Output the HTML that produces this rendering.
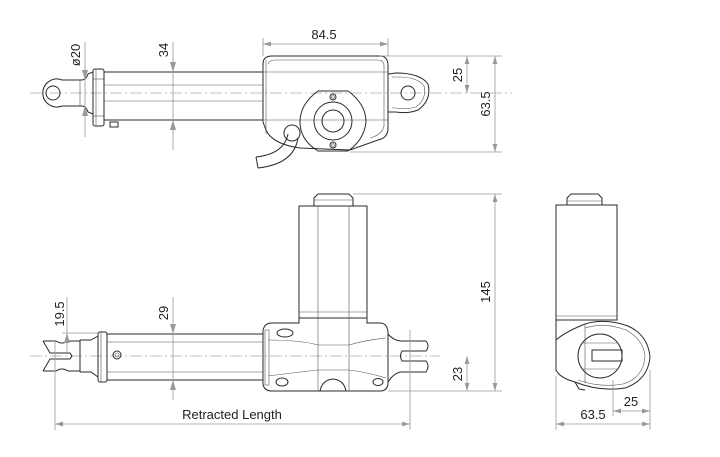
<!DOCTYPE html>
<html><head><meta charset="utf-8"><style>
html,body{margin:0;padding:0;background:#fff;}
svg{display:block;font-family:"Liberation Sans",sans-serif;}
.d{stroke:#2a2a2a;stroke-width:1;fill:none;}
.t{stroke:#555;stroke-width:0.6;fill:none;}
.m{stroke:#9a9a9a;stroke-width:0.8;fill:none;}
.c{stroke:#aaa;stroke-width:0.7;fill:none;stroke-dasharray:12 3 2 3;}
text{font-size:13px;fill:#222;}
</style></head><body>
<svg width="720" height="457" viewBox="0 0 720 457" xmlns="http://www.w3.org/2000/svg">
<defs>
<marker id="a" viewBox="0 0 10 6" refX="10" refY="3" markerWidth="10" markerHeight="6" orient="auto-start-reverse"><path d="M0,0 L10,3 L0,6 z" fill="#999"/></marker>
</defs>

<!-- ===== TOP VIEW ===== -->
<line class="c" x1="30" y1="93" x2="512" y2="93"/>
<!-- left eye -->
<path class="d" d="M72,80 L62,80 A14,14 0 1 0 62,106 L72,106"/>
<circle class="d" cx="53" cy="93" r="7"/>
<path class="d" d="M72,80 L82,80 Q86,80 88,74 L93,72 M72,106 L82,106 Q86,106 88,112 L93,114"/>
<line class="t" x1="80" y1="80" x2="80" y2="106"/>
<rect class="d" x="93" y="69" width="11" height="57" rx="2"/>
<line class="t" x1="96" y1="69" x2="96" y2="126"/>
<line class="t" x1="93" y1="79" x2="104" y2="79"/><line class="t" x1="93" y1="116" x2="104" y2="116"/>
<rect class="d" x="110" y="122" width="8" height="5"/>
<!-- tube -->
<rect class="d" x="104" y="72" width="159" height="48"/>
<line class="t" x1="104" y1="85" x2="263" y2="85"/><line class="t" x1="104" y1="101" x2="263" y2="101"/>
<!-- body -->
<path class="d" d="M263,64 Q263,56 272,56 L380,56 Q388,56 388,66 L388,128 Q388,138 378,140 L350,150 L300,148 Q272,144 266,130 L263,122 Z"/>
<path class="t" d="M268,64 Q270,60 275,60 L378,60 Q384,60 384,66 L384,126 Q382,135 370,138"/>
<line class="t" x1="263" y1="72" x2="388" y2="72"/>
<line class="t" x1="263" y1="120" x2="388" y2="120"/>
<line class="t" x1="266" y1="60" x2="266" y2="134"/>
<!-- right eye -->
<path class="d" d="M388,74 L396,73 Q420,73 428,84 Q432,100 418,110 Q408,114 396,112 L388,112"/>
<path class="t" d="M392,77 L398,77 Q418,77 424,86 Q427,99 416,107 Q406,110 396,108 L392,108"/>
<circle class="d" cx="408" cy="93" r="7"/>
<!-- gear circle -->
<path class="d" d="M318,91 L348,91 Q366,104 366,122 Q364,140 348,151 L318,151 Q300,140 300,122 Q300,104 318,91 Z" fill="#fff"/>
<circle class="d" cx="333" cy="121" r="19"/>
<circle class="d" cx="333" cy="121" r="11"/>
<circle class="d" cx="333" cy="97" r="3"/><circle class="t" cx="333" cy="97" r="1.3"/>
<circle class="d" cx="333" cy="145" r="3"/><circle class="t" cx="333" cy="145" r="1.3"/>
<!-- cable -->
<circle class="d" cx="292" cy="133" r="8"/>
<path class="d" d="M288,134 Q284,154 256,157 M298,138 Q294,164 258,168"/>
<line class="d" x1="256" y1="157" x2="258" y2="168"/>
<!-- dims top -->
<line class="m" x1="263" y1="38" x2="263" y2="56"/><line class="m" x1="388" y1="38" x2="388" y2="56"/>
<line class="m" x1="263" y1="44" x2="388" y2="44" marker-start="url(#a)" marker-end="url(#a)"/>
<text x="324" y="39" text-anchor="middle">84.5</text>
<line class="m" x1="380" y1="56" x2="502" y2="56"/>
<line class="m" x1="350" y1="152" x2="502" y2="152"/>
<line class="m" x1="467" y1="56" x2="467" y2="93" marker-start="url(#a)" marker-end="url(#a)"/>
<text transform="translate(462,75) rotate(-90)" text-anchor="middle">25</text>
<line class="m" x1="495" y1="56" x2="495" y2="152" marker-start="url(#a)" marker-end="url(#a)"/>
<text transform="translate(490,104) rotate(-90)" text-anchor="middle">63.5</text>
<line class="m" x1="173" y1="42" x2="173" y2="150"/>
<path d="M170,62 L173,72 L176,62 Z M170,130 L173,120 L176,130 Z" fill="#999"/>
<text transform="translate(168,50) rotate(-90)" text-anchor="middle">34</text>
<line class="m" x1="85" y1="42" x2="85" y2="137"/>
<path d="M82,70 L85,80 L88,70 Z M82,116 L85,106 L88,116 Z" fill="#999"/>
<text transform="translate(80,55) rotate(-90)" text-anchor="middle">ø20</text>

<!-- ===== FRONT VIEW ===== -->
<line class="c" x1="30" y1="356" x2="440" y2="356"/>
<!-- motor -->
<path class="d" d="M314,206 L314,198 L318,194 L349,194 L353,198 L353,206"/>
<line class="t" x1="314" y1="200" x2="353" y2="200"/>
<rect class="d" x="299" y="206" width="68" height="112"/>
<line class="t" x1="318" y1="206" x2="318" y2="318"/><line class="t" x1="349" y1="206" x2="349" y2="318"/>
<line class="t" x1="299" y1="312" x2="367" y2="312"/>
<line class="m" x1="353" y1="194" x2="502" y2="194"/>
<!-- gearbox body -->
<path class="d" d="M263,331 Q264,323 272,323 L299,323 L299,318 L367,318 L367,323 L380,323 Q387,323 388,332 L388,384 Q387,391 380,391 L272,391 Q264,391 263,384 Z"/>
<path class="t" d="M268,340 Q300,340 318,345 L349,345 Q366,340 386,338 M268,376 Q300,372 318,370 L349,370 Q366,372 386,378"/>
<line class="t" x1="318" y1="318" x2="318" y2="391"/><line class="t" x1="349" y1="318" x2="349" y2="391"/>
<ellipse class="d" cx="285" cy="333" rx="8" ry="4"/>
<ellipse class="d" cx="282" cy="382" rx="6" ry="4"/>
<ellipse class="d" cx="378" cy="382" rx="5" ry="3.5"/>
<path class="d" d="M320,391 Q322,380 333,379 Q344,380 346,391"/>
<rect class="t" x="265" y="330" width="4" height="55"/>
<!-- tube -->
<rect class="d" x="107" y="334" width="156" height="46"/>
<line class="t" x1="107" y1="342" x2="263" y2="342"/><line class="t" x1="107" y1="372" x2="263" y2="372"/>
<rect class="d" x="98" y="332" width="9" height="50" rx="2"/>
<line class="t" x1="101" y1="332" x2="101" y2="382"/>
<circle class="d" cx="117" cy="355" r="4"/><circle class="t" cx="117" cy="355" r="2"/>
<!-- left clevis -->
<path class="d" d="M80,340 L91,340 L98,336 M80,372 L91,372 L98,377"/>
<line class="d" x1="80" y1="340" x2="80" y2="372"/>
<path class="d" d="M43,341 L56,341 Q62,345 68,341 L80,341 M43,371 L56,371 Q62,367 68,371 L80,371"/>
<path class="d" d="M43,341 L50,353 L70,353 L72,356 L70,359 L50,359 L43,371"/>
<!-- right clevis -->
<path class="d" d="M388,334 Q393,340 400,341 L426,341 Q430,346 426,351 L402,351 Q399,356 402,361 L426,361 Q430,366 426,372 L400,372 Q393,374 388,382"/>
<!-- dims front -->
<line class="m" x1="495" y1="194" x2="495" y2="391" marker-start="url(#a)" marker-end="url(#a)"/>
<text transform="translate(490,292) rotate(-90)" text-anchor="middle">145</text>
<line class="m" x1="388" y1="391" x2="502" y2="391"/>
<line class="m" x1="467" y1="356" x2="467" y2="391" marker-start="url(#a)" marker-end="url(#a)"/>
<text transform="translate(462,374) rotate(-90)" text-anchor="middle">23</text>
<line class="m" x1="173" y1="297" x2="173" y2="400"/>
<path d="M170,324 L173,334 L176,324 Z M170,390 L173,380 L176,390 Z" fill="#999"/>
<text transform="translate(168,313) rotate(-90)" text-anchor="middle">29</text>
<line class="m" x1="67" y1="297" x2="67" y2="354"/>
<path d="M64,343 L67,333 L70,343 Z" fill="#999"/>
<line class="m" x1="62" y1="333" x2="98" y2="333"/>
<text transform="translate(64,314) rotate(-90)" text-anchor="middle">19.5</text>
<line class="m" x1="55" y1="340" x2="55" y2="430"/>
<line class="m" x1="410" y1="330" x2="410" y2="430"/>
<line class="m" x1="55" y1="424" x2="410" y2="424" marker-start="url(#a)" marker-end="url(#a)"/>
<text x="232" y="419" text-anchor="middle">Retracted Length</text>

<!-- ===== SIDE VIEW ===== -->
<path class="d" d="M567,205 L567,198 L571,194 L598,194 L602,198 L602,205"/>
<line class="t" x1="567" y1="201" x2="602" y2="201"/>
<rect class="d" x="556" y="205" width="61" height="115"/>
<line class="t" x1="556" y1="316" x2="617" y2="316"/>
<path class="d" d="M556,320 L556,370 Q560,378 575,382 Q600,392 625,388 Q648,380 650,357 Q648,335 628,326 Q605,318 585,324 Q565,332 556,340"/>
<path class="t" d="M585,328 Q605,322 626,330 Q644,340 645,357 Q643,378 623,384 Q600,388 578,380"/>
<line class="t" x1="585" y1="325" x2="585" y2="383"/>
<circle class="d" cx="600" cy="356" r="22"/>
<rect class="d" x="592" y="350" width="30" height="11"/>
<line class="t" x1="582" y1="343" x2="618" y2="343"/><line class="t" x1="582" y1="369" x2="618" y2="369"/>
<path class="d" d="M575,382 L579,389 L585,390"/>
<!-- dims side -->
<line class="m" x1="556" y1="376" x2="556" y2="430"/>
<line class="m" x1="650" y1="370" x2="650" y2="430"/>
<line class="m" x1="613" y1="380" x2="613" y2="416"/>
<line class="m" x1="556" y1="424" x2="650" y2="424" marker-start="url(#a)" marker-end="url(#a)"/>
<text x="593" y="419" text-anchor="middle">63.5</text>
<line class="m" x1="613" y1="411" x2="650" y2="411" marker-start="url(#a)" marker-end="url(#a)"/>
<text x="631" y="406" text-anchor="middle">25</text>
</svg>
</body></html>
